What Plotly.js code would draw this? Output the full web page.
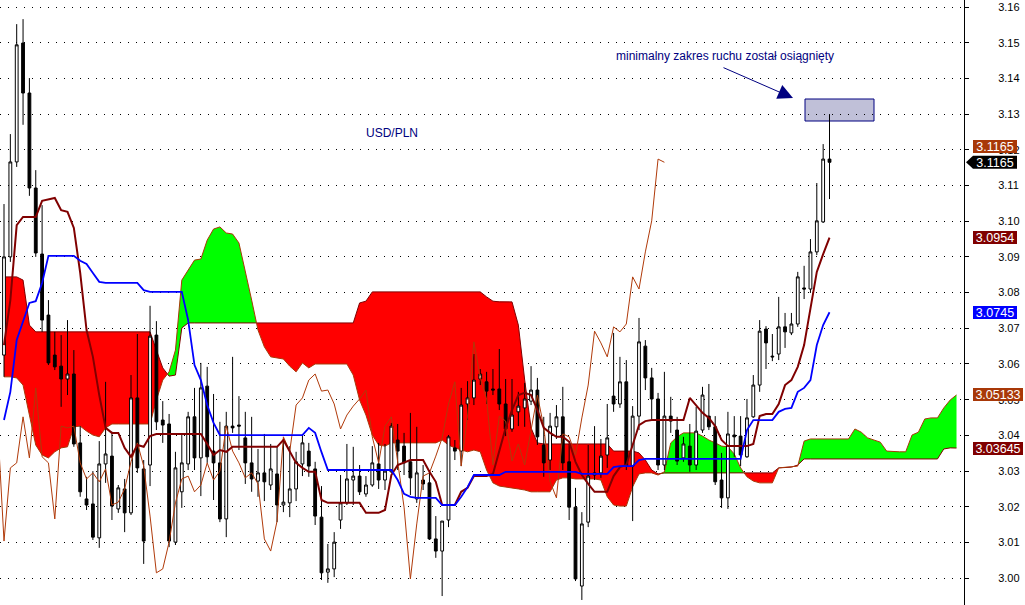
<!DOCTYPE html>
<html><head><meta charset="utf-8">
<script src="https://cdn.plot.ly/plotly-3.0.1.min.js"></script>
<style>html,body{margin:0;padding:0;background:#fff}#chart{width:1025px;height:605px}</style>
</head><body><div id="chart"></div>
<script>
// ---- USD/PLN candles (bar index 0..130) ----
const open = [3.0625,3.0900,3.1166,3.1499,3.1359,3.1093,3.0908,3.0737,3.0625,3.0594,
3.0558,3.0572,3.0379,3.0222,3.0208,3.0113,3.0320,3.0342,3.0194,3.0250,
3.0183,3.0505,3.0306,3.0317,3.0681,3.0443,3.0432,3.0101,3.0242,3.0320,
3.0452,3.0337,3.0538,3.0356,3.0323,3.0166,3.0426,3.0429,3.0393,3.0323,
3.0272,3.0295,3.0261,3.0292,3.0205,3.0211,3.0250,3.0320,3.0356,3.0306,
3.0171,3.0017,3.0026,3.0163,3.0211,3.0275,3.0286,3.0236,3.0261,3.0320,
3.0275,3.0298,3.0387,3.0370,3.0326,3.0222,3.0275,3.0267,3.0110,3.0076,
3.0163,3.0365,3.0356,3.0488,3.0505,3.0558,3.0550,3.0530,3.0530,3.0488,
3.0418,3.0466,3.0477,3.0496,3.0527,3.0373,3.0331,3.0424,3.0452,3.0326,
3.0199,2.9978,3.0157,3.0289,3.0295,3.0345,3.0510,3.0488,3.0550,3.0314,
3.0454,3.0650,3.0561,3.0502,3.0317,3.0454,3.0415,3.0337,3.0370,3.0317,
3.0415,3.0454,3.0424,3.0275,3.0225,3.0401,3.0398,3.0340,3.0452,3.0541,
3.0698,3.0622,3.0628,3.0704,3.0687,3.0712,3.0813,3.0810,3.0914,3.0998,
3.1174];
const high = [3.1048,3.1244,3.1552,3.1566,3.1401,3.1143,3.1045,3.0779,3.0690,3.0681,
3.0723,3.0639,3.0426,3.0284,3.0300,3.0384,3.0550,3.0410,3.0261,3.0278,
3.0569,3.0684,3.0331,3.0763,3.0720,3.0496,3.0460,3.0354,3.0404,3.0466,
3.0533,3.0603,3.0592,3.0516,3.0438,3.0466,3.0620,3.0510,3.0466,3.0452,
3.0362,3.0404,3.0376,3.0370,3.0384,3.0370,3.0354,3.0404,3.0379,3.0326,
3.0258,3.0096,3.0129,3.0289,3.0376,3.0368,3.0317,3.0286,3.0370,3.0379,
3.0376,3.0435,3.0432,3.0407,3.0463,3.0424,3.0317,3.0303,3.0174,3.0160,
3.0401,3.0387,3.0533,3.0552,3.0628,3.0586,3.0578,3.0586,3.0642,3.0558,
3.0558,3.0522,3.0547,3.0594,3.0561,3.0452,3.0463,3.0485,3.0536,3.0376,
3.0253,3.0185,3.0373,3.0426,3.0390,3.0488,3.0687,3.0620,3.0611,3.0482,
3.0729,3.0667,3.0589,3.0519,3.0578,3.0508,3.0452,3.0396,3.0432,3.0480,
3.0536,3.0544,3.0454,3.0351,3.0466,3.0454,3.0454,3.0502,3.0569,3.0723,
3.0706,3.0684,3.0788,3.0743,3.0743,3.0858,3.0875,3.0950,3.1107,3.1216,
3.1300];
const low = [3.0564,3.0886,3.1152,3.1270,3.1071,3.0900,3.0690,3.0597,3.0583,3.0480,
3.0513,3.0368,3.0228,3.0191,3.0107,3.0085,3.0267,3.0163,3.0183,3.0129,
3.0177,3.0295,3.0040,3.0258,3.0415,3.0379,3.0087,3.0093,3.0197,3.0303,
3.0303,3.0230,3.0323,3.0219,3.0157,3.0115,3.0407,3.0359,3.0264,3.0242,
3.0228,3.0216,3.0247,3.0157,3.0185,3.0171,3.0216,3.0286,3.0284,3.0149,
2.9995,2.9987,3.0003,3.0138,3.0205,3.0205,3.0233,3.0228,3.0256,3.0250,
3.0247,3.0295,3.0303,3.0289,3.0233,3.0211,3.0247,3.0107,3.0057,2.9950,
3.0143,3.0331,3.0314,3.0443,3.0485,3.0541,3.0488,3.0513,3.0471,3.0398,
3.0410,3.0426,3.0424,3.0485,3.0373,3.0284,3.0303,3.0390,3.0303,3.0163,
2.9992,2.9939,3.0143,3.0275,3.0281,3.0309,3.0466,3.0477,3.0303,3.0160,
3.0415,3.0527,3.0446,3.0303,3.0303,3.0407,3.0317,3.0326,3.0298,3.0303,
3.0407,3.0415,3.0261,3.0197,3.0194,3.0340,3.0314,3.0337,3.0449,3.0522,
3.0586,3.0608,3.0611,3.0645,3.0681,3.0704,3.0782,3.0799,3.0905,3.0995,
3.1062];
const close = [3.0900,3.1166,3.1494,3.1359,3.1093,3.0911,3.0723,3.0603,3.0592,3.0558,
3.0572,3.0376,3.0242,3.0205,3.0115,3.0320,3.0348,3.0202,3.0253,3.0183,
3.0505,3.0309,3.0104,3.0678,3.0438,3.0429,3.0104,3.0309,3.0323,3.0452,
3.0337,3.0533,3.0340,3.0323,3.0166,3.0426,3.0421,3.0426,3.0323,3.0278,
3.0295,3.0270,3.0306,3.0205,3.0213,3.0250,3.0326,3.0379,3.0314,3.0174,
3.0015,3.0026,3.0101,3.0211,3.0278,3.0286,3.0242,3.0261,3.0323,3.0275,
3.0300,3.0426,3.0356,3.0323,3.0281,3.0295,3.0264,3.0110,3.0076,3.0160,
3.0396,3.0356,3.0485,3.0505,3.0555,3.0572,3.0524,3.0527,3.0488,3.0418,
3.0457,3.0482,3.0502,3.0527,3.0396,3.0323,3.0426,3.0452,3.0323,3.0199,
2.9998,3.0152,3.0286,3.0295,3.0342,3.0393,3.0488,3.0550,3.0314,3.0454,
3.0662,3.0561,3.0502,3.0317,3.0454,3.0440,3.0328,3.0376,3.0317,3.0412,
3.0513,3.0424,3.0270,3.0225,3.0404,3.0396,3.0345,3.0449,3.0541,3.0692,
3.0659,3.0620,3.0704,3.0690,3.0712,3.0844,3.0810,3.0914,3.1001,3.1174,
3.1165];

// ---- Ichimoku lines ----
const tenkan = [3.0653,3.0779,3.0989,3.1012,3.1012,3.1012,3.1057,3.1062,3.1065,3.1031,
3.1026,3.0981,3.0855,3.0695,3.0620,3.0513,3.0421,3.0407,3.0407,3.0365,
3.0340,3.0373,3.0368,3.0398,3.0404,3.0404,3.0404,3.0404,3.0404,3.0404,
3.0404,3.0404,3.0376,3.0345,3.0359,3.0354,3.0368,3.0368,3.0368,3.0368,
3.0368,3.0368,3.0368,3.0368,3.0387,3.0354,3.0323,3.0309,3.0298,3.0298,
3.0219,3.0211,3.0211,3.0211,3.0211,3.0211,3.0211,3.0183,3.0183,3.0183,
3.0191,3.0289,3.0317,3.0323,3.0331,3.0331,3.0331,3.0298,3.0270,3.0205,
3.0205,3.0205,3.0242,3.0253,3.0286,3.0286,3.0286,3.0292,3.0354,3.0421,
3.0471,3.0513,3.0519,3.0513,3.0471,3.0421,3.0407,3.0396,3.0396,3.0382,
3.0326,3.0289,3.0264,3.0242,3.0242,3.0242,3.0286,3.0311,3.0317,3.0373,
3.0429,3.0440,3.0443,3.0443,3.0443,3.0443,3.0443,3.0443,3.0505,3.0485,
3.0463,3.0449,3.0426,3.0387,3.0370,3.0370,3.0370,3.0370,3.0376,3.0454,
3.0460,3.0460,3.0488,3.0541,3.0555,3.0592,3.0653,3.0751,3.0858,3.0908,
3.0954];
const kijun = [3.0443,3.0522,3.0667,3.0718,3.0771,3.0776,3.0827,3.0903,3.0903,3.0903,
3.0903,3.0903,3.0889,3.0880,3.0855,3.0830,3.0827,3.0827,3.0827,3.0827,
3.0827,3.0827,3.0807,3.0802,3.0802,3.0802,3.0802,3.0802,3.0802,3.0723,
3.0597,3.0555,3.0485,3.0435,3.0401,3.0401,3.0401,3.0401,3.0401,3.0401,
3.0401,3.0401,3.0401,3.0401,3.0401,3.0401,3.0401,3.0401,3.0421,3.0407,
3.0353,3.0303,3.0303,3.0303,3.0303,3.0303,3.0303,3.0303,3.0303,3.0303,
3.0303,3.0303,3.0275,3.0236,3.0228,3.0225,3.0225,3.0225,3.0225,3.0205,
3.0205,3.0205,3.0228,3.0255,3.0289,3.0289,3.0289,3.0289,3.0289,3.0298,
3.0298,3.0298,3.0298,3.0298,3.0298,3.0298,3.0298,3.0298,3.0298,3.0298,
3.0298,3.0292,3.0292,3.0292,3.0292,3.0292,3.0311,3.0314,3.0314,3.0314,
3.0331,3.0334,3.0334,3.0334,3.0334,3.0334,3.0334,3.0334,3.0334,3.0334,
3.0334,3.0334,3.0334,3.0334,3.0334,3.0334,3.0334,3.0415,3.0443,3.0443,
3.0443,3.0443,3.0466,3.0474,3.0477,3.0522,3.0533,3.0555,3.0653,3.0709,
3.0745];
// chikou span: plotted from bar -1 to bar 104
const chikou = [3.0429,3.0104,3.0309,3.0323,3.0452,3.0337,3.0533,3.0340,3.0323,3.0166,
3.0426,3.0421,3.0426,3.0323,3.0278,3.0295,3.0270,3.0306,3.0205,3.0213,
3.0250,3.0326,3.0379,3.0314,3.0174,3.0015,3.0026,3.0101,3.0211,3.0278,
3.0286,3.0242,3.0261,3.0323,3.0275,3.0300,3.0426,3.0356,3.0323,3.0281,
3.0295,3.0264,3.0110,3.0076,3.0160,3.0396,3.0356,3.0485,3.0505,3.0555,
3.0572,3.0524,3.0527,3.0488,3.0418,3.0457,3.0482,3.0502,3.0527,3.0396,
3.0323,3.0426,3.0452,3.0323,3.0199,2.9998,3.0152,3.0286,3.0295,3.0342,
3.0393,3.0488,3.0550,3.0314,3.0454,3.0662,3.0561,3.0502,3.0317,3.0454,
3.0440,3.0328,3.0376,3.0317,3.0412,3.0513,3.0424,3.0270,3.0225,3.0404,
3.0396,3.0345,3.0449,3.0541,3.0692,3.0659,3.0620,3.0704,3.0690,3.0712,
3.0844,3.0810,3.0914,3.1001,3.1174,3.1165];
// senkou spans (cloud), bar 0..150
const senkouA = [3.0564,3.0564,3.0561,3.0541,3.0457,3.0373,3.0345,3.0337,3.0354,3.0365,
3.0368,3.0424,3.0426,3.0412,3.0401,3.0396,3.0421,3.0432,3.0432,3.0432,
3.0432,3.0432,3.0432,3.0432,3.0499,3.0555,3.0578,3.0639,3.0835,3.0863,
3.0891,3.0894,3.0947,3.0978,3.0984,3.0967,3.0964,3.0939,3.0863,3.0779,
3.0695,3.0648,3.0620,3.0617,3.0614,3.0594,3.0578,3.0603,3.0589,3.0600,
3.0600,3.0600,3.0600,3.0600,3.0600,3.0569,3.0499,3.0457,3.0401,3.0373,
3.0370,3.0379,3.0379,3.0379,3.0379,3.0379,3.0379,3.0379,3.0379,3.0387,
3.0373,3.0365,3.0359,3.0354,3.0359,3.0354,3.0303,3.0267,3.0258,3.0256,
3.0253,3.0250,3.0247,3.0242,3.0242,3.0242,3.0242,3.0275,3.0281,3.0281,
3.0278,3.0278,3.0278,3.0278,3.0275,3.0228,3.0205,3.0202,3.0202,3.0256,
3.0292,3.0295,3.0295,3.0289,3.0298,3.0379,3.0396,3.0407,3.0407,3.0407,
3.0398,3.0387,3.0379,3.0370,3.0368,3.0348,3.0309,3.0284,3.0272,3.0267,
3.0267,3.0267,3.0309,3.0311,3.0311,3.0314,3.0384,3.0390,3.0390,3.0390,
3.0390,3.0390,3.0390,3.0390,3.0418,3.0409,3.0393,3.0387,3.0381,3.0356,
3.0354,3.0354,3.0354,3.0401,3.0409,3.0446,3.0449,3.0449,3.0477,3.0499,
3.05133];
const senkouB = [3.0844,3.0844,3.0844,3.0835,3.0709,3.0690,3.0690,3.0690,3.0690,3.0690,
3.0690,3.0690,3.0690,3.0690,3.0690,3.0690,3.0690,3.0690,3.0690,3.0690,
3.0690,3.0690,3.0690,3.0690,3.0639,3.0589,3.0566,3.0569,3.0701,3.0715,
3.0715,3.0715,3.0715,3.0715,3.0715,3.0715,3.0715,3.0715,3.0715,3.0715,
3.0715,3.0715,3.0715,3.0715,3.0715,3.0715,3.0715,3.0715,3.0715,3.0715,
3.0715,3.0715,3.0715,3.0715,3.0715,3.0715,3.0771,3.0776,3.0802,3.0802,
3.0802,3.0802,3.0802,3.0802,3.0802,3.0802,3.0802,3.0802,3.0802,3.0802,
3.0802,3.0802,3.0802,3.0802,3.0802,3.0802,3.0788,3.0776,3.0774,3.0774,
3.0774,3.0709,3.0555,3.0421,3.0379,3.0376,3.0376,3.0376,3.0376,3.0376,
3.0376,3.0376,3.0376,3.0376,3.0376,3.0376,3.0356,3.0356,3.0356,3.0356,
3.0351,3.0331,3.0303,3.0292,3.0295,3.0295,3.0295,3.0295,3.0295,3.0295,
3.0295,3.0295,3.0295,3.0295,3.0295,3.0295,3.0295,3.0295,3.0295,3.0295,
3.0295,3.0295,3.0309,3.0311,3.0311,3.0317,3.0334,3.0334,3.0334,3.0334,
3.0334,3.0334,3.0334,3.0334,3.0334,3.0334,3.0334,3.0334,3.0334,3.0334,
3.0334,3.0334,3.0334,3.0334,3.0334,3.0334,3.0334,3.0334,3.0362,3.0365,
3.03645];

const title = 'USD/PLN';
const note = 'minimalny zakres ruchu został osiągnięty';

// ---- geometry / style ----
const X0 = -0.63, X1 = 151.18;
const Y0 = 2.99249, Y1 = 3.16196;
const PW = 964, PH = 605;
const px = v => v / PW;             // pixel -> paper x
const py = v => 1 - v / PH;         // pixel -> paper y
const vy = v => (v - Y0) / (Y1 - Y0); // value -> paper y
const FONT = 'Liberation Sans, Arial, sans-serif';
const NAVY = '#000080';
const BROWN = '#A83808';
const MAROON = '#800000';

const barIndex = close.map((_, i) => i);
const chikouIndex = chikou.map((_, k) => k - 1);
const cloudIndex = senkouA.map((_, i) => i);

function cloudPolygons(xs, a, b) {
  const pts = [];
  for (let i = 0; i < xs.length; i++) {
    pts.push({x: xs[i], a: a[i], b: b[i]});
    if (i < xs.length - 1) {
      const d0 = a[i] - b[i], d1 = a[i + 1] - b[i + 1];
      if (d0 * d1 < 0) {
        const t = d0 / (d0 - d1);
        const y = a[i] + t * (a[i + 1] - a[i]);
        pts.push({x: xs[i] + t * (xs[i + 1] - xs[i]), a: y, b: y});
      }
    }
  }
  const polys = [];
  let run = [pts[0]];
  const flush = () => {
    if (run.length < 2) return;
    let s = 0;
    run.forEach(p => { const d = p.a - p.b; if (Math.abs(d) > Math.abs(s)) s = d; });
    if (s === 0) return;
    const xsRun = run.map(p => p.x);
    polys.push({
      up: s > 0,
      x: xsRun.concat(xsRun.slice().reverse()),
      y: run.map(p => p.a).concat(run.map(p => p.b).reverse())
    });
  };
  for (let k = 1; k < pts.length; k++) {
    run.push(pts[k]);
    if (pts[k].a === pts[k].b) { flush(); run = [pts[k]]; }
  }
  flush();
  return polys;
}

const traces = [];
cloudPolygons(cloudIndex, senkouA, senkouB).forEach(p => traces.push({
  type: 'scatter', mode: 'lines', x: p.x, y: p.y, fill: 'toself',
  fillcolor: p.up ? '#00FF00' : '#FF0000', line: {width: 0, color: 'rgba(0,0,0,0)'},
  hoverinfo: 'skip', xaxis: 'x', yaxis: 'y'
}));
traces.push({type: 'scatter', mode: 'lines', x: cloudIndex, y: senkouB,
  line: {color: MAROON, width: 1}, hoverinfo: 'skip', xaxis: 'x', yaxis: 'y'});
traces.push({type: 'scatter', mode: 'lines', x: cloudIndex, y: senkouA,
  line: {color: BROWN, width: 1}, hoverinfo: 'skip', xaxis: 'x', yaxis: 'y'});

traces.push({
  type: 'candlestick', x: barIndex, open: open, high: high, low: low, close: close,
  xaxis: 'x2', yaxis: 'y2', whiskerwidth: 0, hoverinfo: 'none',
  increasing: {line: {color: '#000000', width: 1}, fillcolor: '#FFFFFF'},
  decreasing: {line: {color: '#000000', width: 1}, fillcolor: '#000000'}
});
traces.push({type: 'scatter', mode: 'lines', x: chikouIndex, y: chikou,
  line: {color: '#B03A0A', width: 1}, hoverinfo: 'skip', xaxis: 'x2', yaxis: 'y2'});
traces.push({type: 'scatter', mode: 'lines', x: barIndex, y: tenkan,
  line: {color: MAROON, width: 2}, hoverinfo: 'skip', xaxis: 'x2', yaxis: 'y2'});
traces.push({type: 'scatter', mode: 'lines', x: barIndex, y: kijun,
  line: {color: '#0000FF', width: 1.8}, hoverinfo: 'skip', xaxis: 'x2', yaxis: 'y2'});

const last = arr => arr[arr.length - 1];
const labelBox = (v, txt, bg, w, shift) => ({
  xref: 'paper', yref: 'y', x: px(973), y: v, xanchor: 'left', yanchor: 'middle',
  yshift: shift || 0, text: txt, showarrow: false, bgcolor: bg, borderpad: 0, borderwidth: 0,
  width: w, height: 13, align: 'center', font: {family: FONT, size: 12.5, color: '#FFFFFF'}
});

const annotations = [
  {xref: 'paper', yref: 'paper', x: px(392), y: py(133), xanchor: 'center', yanchor: 'middle',
   text: title, showarrow: false, font: {family: FONT, size: 12, color: NAVY}},
  {xref: 'paper', yref: 'paper', x: px(614), y: py(56), xanchor: 'left', yanchor: 'middle',
   text: note, showarrow: false, font: {family: FONT, size: 12, color: NAVY}},
  {xref: 'paper', yref: 'paper', x: px(793), y: py(98), ax: -71, ay: -31, text: '',
   showarrow: true, arrowhead: 2, arrowsize: 3, arrowwidth: 1, arrowcolor: NAVY, standoff: 0},
  labelBox(last(chikou), String(last(chikou)), BROWN, 44, 16),
  labelBox(last(close), String(last(close)), 'rgba(0,0,0,0)', 44, 0),
  labelBox(last(tenkan), String(last(tenkan)), MAROON, 44, 0),
  labelBox(last(kijun), String(last(kijun)), '#0000FF', 44, 0),
  labelBox(last(senkouA), String(last(senkouA)), BROWN, 50, 0),
  labelBox(last(senkouB), String(last(senkouB)), MAROON, 50, 0)
];

const shapes = [
  {type: 'rect', xref: 'paper', yref: 'paper', x0: px(805), x1: px(874), y0: py(121), y1: py(99),
   fillcolor: '#C0C0D8', line: {color: NAVY, width: 1}, layer: 'below'},
  {type: 'path', xref: 'paper', yref: 'paper', xsizemode: 'pixel', ysizemode: 'pixel',
   xanchor: 1, yanchor: vy(last(close)), path: 'M2,0 L9,6.5 L53,6.5 L53,-6.5 L9,-6.5 Z',
   fillcolor: '#000000', line: {width: 0}, layer: 'above'}
];

const layout = {
  width: 1025, height: 605, margin: {l: 0, r: 61, t: 0, b: 0, pad: 0},
  paper_bgcolor: '#FFFFFF', plot_bgcolor: '#FFFFFF', showlegend: false,
  dragmode: false, hovermode: false, boxgap: 0.37,
  xaxis: {range: [X0, X1], visible: false, showgrid: false, zeroline: false,
          rangeslider: {visible: false}, fixedrange: true},
  yaxis: {range: [Y0, Y1], side: 'right', tick0: 3, dtick: 0.01, tickformat: '.2f',
          showgrid: true, gridcolor: '#000000', gridwidth: 1, griddash: '1px,7px',
          zeroline: false, showline: true, linecolor: '#000000', linewidth: 1,
          ticks: 'outside', ticklen: 4, tickcolor: '#000000', tickwidth: 1,
          ticklabelstandoff: 27,
          tickfont: {family: FONT, size: 11, color: '#000000'}, fixedrange: true},
  xaxis2: {overlaying: 'x', range: [X0, X1], visible: false, showgrid: false,
           rangeslider: {visible: false}, fixedrange: true},
  yaxis2: {overlaying: 'y', range: [Y0, Y1], visible: false, showgrid: false,
           side: 'right', fixedrange: true},
  annotations: annotations, shapes: shapes
};

Plotly.newPlot('chart', traces, layout, {displayModeBar: false, staticPlot: true});
</script>
</body></html>
